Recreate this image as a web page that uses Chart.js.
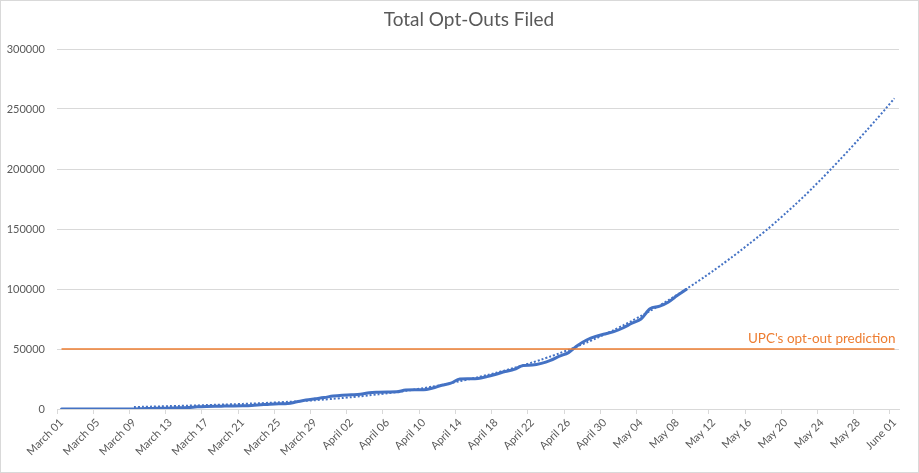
<!DOCTYPE html>
<html>
<head>
<meta charset="utf-8">
<script src="https://cdn.jsdelivr.net/npm/chart.js@4.4.0/dist/chart.umd.min.js"></script>
<style>
  html, body { margin: 0; padding: 0; background: #fff; }
  #wrap { width: 919px; height: 473px; position: relative; }
</style>
</head>
<body>
<div id="wrap"><canvas id="grafico"></canvas></div>
<script>
// categorias: um dia por rotulo, de 1 de marco a 1 de junho
const meses = [['March', 31], ['April', 30], ['May', 31], ['June', 1]];
const dias = [];
meses.forEach(([nome, n]) => {
  for (let d = 1; d <= n; d++) dias.push(nome + ' ' + String(d).padStart(2, '0'));
});

// total acumulado de opt-outs (1 mar - 9 mai)
const optOuts = [
  0, 0, 0, 0, 0, 0, 0, 0, 100, 300,
  500, 600, 800, 1000, 1300, 1800, 2100, 2300, 2400, 2500,
  2700, 3000, 3500, 4000, 4300, 4500, 6000, 7500, 8500, 9500,
  10800, 11500, 11800, 12200, 13600, 14000, 14200, 14300, 15800, 16000,
  16000, 17500, 19800, 21500, 25000, 25300, 25500, 27000, 29000, 31200,
  33000, 36200, 36600, 38000, 40500, 44000, 47000, 53000, 57500, 60500,
  62500, 64500, 67500, 71500, 75000, 83500, 85500, 89000, 94500, 99500
];

// linha de tendencia (pontilhada)
const tendencia = [
  null, null, null, null, null, null, null, null, 1600, 1800,
  2000, 2200, 2400, 2600, 2800, 3000, 3250, 3500, 3750, 4000,
  4250, 4550, 4850, 5200, 5550, 5950, 6400, 6850, 7350, 7900,
  8500, 9150, 9850, 10600, 11400, 12250, 13150, 14100, 15100, 16200,
  17400, 18700, 20100, 21600, 23200, 24800, 26500, 28300, 30200, 32200,
  34300, 36500, 38800, 41200, 43750, 46450, 49300, 52300, 55450, 58750,
  62200, 65800, 69550, 73450, 77500, 81700, 86050, 90550, 95200, 100000,
  104900, 110000, 115300, 120700, 126300, 132000, 137900, 143900, 150000, 156500,
  163200, 170100, 177200, 184600, 192200, 200000, 208000, 216100, 224400, 232800,
  241300, 250000, 258900
];

// previsao da UPC
const previsaoUPC = [50000, 50000];
const rotuloPrevisao = "UPC's opt-out prediction";
const titulo = 'Total Opt-Outs Filed';

const yTicks = [0, 50000, 100000, 150000, 200000, 250000, 300000];

const AZUL = '#4472C4';
const LARANJA = '#ED7D31';
const CINZA = '#d9d9d9';
const TEXTO = '#595959';

// fundo, borda e titulo (titulo desenhado a mao para ficar no mesmo lugar do original)
const moldura = {
  id: 'moldura',
  beforeDraw(chart) {
    const c = chart.ctx;
    c.save();
    c.fillStyle = '#fff';
    c.fillRect(0, 0, chart.width, chart.height);
    c.strokeStyle = CINZA;
    c.lineWidth = 1;
    c.strokeRect(0.5, 0.5, chart.width - 1, chart.height - 1);
    c.font = '19px Lato';
    c.fillStyle = TEXTO;
    c.textAlign = 'center';
    c.textBaseline = 'middle';
    c.fillText(titulo, 469, 20);
    c.restore();
  }
};

const rotuloLinha = {
  id: 'rotuloLinha',
  afterDatasetsDraw(chart) {
    const meta = chart.getDatasetMeta(0);
    const ultimo = meta.data[meta.data.length - 1];
    if (!ultimo) return;
    const c = chart.ctx;
    c.save();
    c.font = '13.5px Lato';
    c.fillStyle = LARANJA;
    c.textAlign = 'right';
    c.textBaseline = 'alphabetic';
    c.fillText(rotuloPrevisao, ultimo.x + 1, ultimo.y - 6);
    c.restore();
  }
};

new Chart(document.getElementById('grafico'), {
  type: 'line',
  data: {
    labels: dias,
    datasets: [
      {
        label: rotuloPrevisao,
        data: [
          { x: dias[0], y: previsaoUPC[0] },
          { x: dias[dias.length - 1], y: previsaoUPC[1] }
        ],
        borderColor: LARANJA,
        borderWidth: 1.5,
        pointRadius: 0
      },
      {
        label: 'Total Opt-Outs',
        data: optOuts,
        borderColor: AZUL,
        borderWidth: 3,
        pointRadius: 0,
        cubicInterpolationMode: 'monotone',
        borderCapStyle: 'round',
        borderJoinStyle: 'round'
      },
      {
        label: 'Trend',
        data: tendencia,
        borderColor: AZUL,
        borderWidth: 2,
        borderDash: [2, 2],
        pointRadius: 0,
        tension: 0.3
      }
    ]
  },
  options: {
    responsive: true,
    maintainAspectRatio: false,
    animation: false,
    layout: { padding: { top: 49, left: 0, right: 20, bottom: 0 } },
    plugins: {
      legend: { display: false },
      tooltip: { enabled: false },
      title: { display: false }
    },
    scales: {
      x: {
        offset: true,
        grid: {
          offset: true,
          drawOnChartArea: false,
          tickLength: 5,
          color: ctx => (ctx.index % 4 === 0 ? CINZA : 'rgba(0,0,0,0)')
        },
        border: { display: true, color: CINZA },
        ticks: {
          autoSkip: false,
          minRotation: 45,
          maxRotation: 45,
          padding: 2,
          color: TEXTO,
          font: { family: 'Lato', size: 11 },
          callback: (v, i) => (i % 4 === 0 ? dias[i] : '')
        },
        afterFit: s => { s.height = 64; }
      },
      y: {
        min: yTicks[0],
        max: yTicks[yTicks.length - 1],
        afterBuildTicks: s => { s.ticks = yTicks.map(v => ({ value: v })); },
        grid: { color: CINZA, drawTicks: false },
        border: { display: false },
        ticks: {
          padding: 12,
          color: TEXTO,
          font: { family: 'Lato', size: 11 },
          callback: v => String(v)
        },
        afterFit: s => { s.width = 57; }
      }
    }
  },
  plugins: [moldura, rotuloLinha]
});
</script>
</body>
</html>
